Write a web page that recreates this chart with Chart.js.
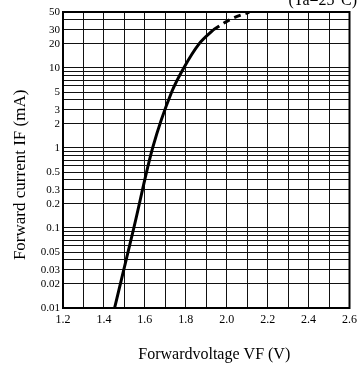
<!DOCTYPE html>
<html>
<head>
<meta charset="utf-8">
<script src="https://cdn.jsdelivr.net/npm/chart.js@4/dist/chart.umd.min.js"></script>
<style>
  html, body { margin: 0; padding: 0; background: #fff; }
  #wrap { width: 362px; height: 371px; }
</style>
</head>
<body>
<div id="wrap"><canvas id="ivChart"></canvas></div>
<script>
// forward voltage (V) vs forward current (mA)
const voltSolid = [1.452, 1.546, 1.638, 1.731, 1.790, 1.865, 1.935];
const currSolid = [0.01, 0.1, 1, 5, 10, 20, 30];
const voltDashed = [1.935, 2.015, 2.11];
const currDashed = [30, 40, 50];

// axis ticks
const yGridValues = [0.01,0.02,0.03,0.04,0.05,0.06,0.07,0.08,0.09,
                     0.1,0.2,0.3,0.4,0.5,0.6,0.7,0.8,0.9,
                     1,2,3,4,5,6,7,8,9,
                     10,20,30,40,50];
const yLabels = ['0.01','0.02','0.03','0.05','0.1','0.2','0.3','0.5','1','2','3','5','10','20','30','50'];
const xLabels = ['1.2','1.4','1.6','1.8','2.0','2.2','2.4','2.6'];

const ctx = document.getElementById('ivChart').getContext('2d');

const toPoints = (xs, ys) => xs.map((x, i) => ({ x: x, y: ys[i] }));

// thick frame + temperature note
const framePlugin = {
    id: 'frame',
    afterDraw(chart) {
        const a = chart.chartArea;
        const c = chart.ctx;
        c.save();
        c.strokeStyle = '#000';
        c.lineWidth = 2;
        c.strokeRect(a.left, a.top, a.right - a.left, a.bottom - a.top);
        c.fillStyle = '#000';
        c.font = '16px "Liberation Serif"';
        c.textAlign = 'right';
        c.textBaseline = 'alphabetic';
        c.fillText('(Ta=25°C)', 357, 5);
        c.restore();
    }
};

const ivChart = new Chart(ctx, {
    type: 'line',
    data: {
        datasets: [{
            label: 'IF',
            data: toPoints(voltSolid, currSolid),
            borderColor: '#000',
            borderWidth: 3,
            pointRadius: 0,
            cubicInterpolationMode: 'monotone'
        }, {
            label: 'IF (dashed)',
            data: toPoints(voltDashed, currDashed),
            borderColor: '#000',
            borderWidth: 3,
            borderDash: [7, 5],
            pointRadius: 0,
            cubicInterpolationMode: 'monotone'
        }]
    },
    options: {
        responsive: true,
        maintainAspectRatio: false,
        animation: false,
        layout: {
            padding: { top: 12, right: 3, left: 0, bottom: 0 }
        },
        plugins: {
            legend: { display: false },
            tooltip: { enabled: false }
        },
        scales: {
            x: {
                type: 'linear',
                min: 1.2,
                max: 2.6,
                ticks: {
                    stepSize: 0.1,
                    autoSkip: false,
                    maxRotation: 0,
                    padding: 5,
                    color: '#000',
                    font: { family: 'Liberation Serif', size: 12 },
                    callback: function(v) {
                        const s = Number(v).toFixed(1);
                        return xLabels.includes(s) ? s : '';
                    }
                },
                grid: { color: '#111', lineWidth: 1, drawTicks: false },
                border: { color: '#000', width: 2 },
                title: {
                    display: true,
                    text: '    Forwardvoltage VF (V)',
                    color: '#000',
                    font: { family: 'Liberation Serif', size: 16 },
                    padding: { top: 0, bottom: 7 }
                },
                afterFit: function(scale) { scale.height = 63; }
            },
            y: {
                type: 'logarithmic',
                min: 0.01,
                max: 50,
                afterBuildTicks: function(scale) {
                    scale.ticks = yGridValues.map(v => ({ value: v }));
                },
                ticks: {
                    autoSkip: false,
                    padding: 3,
                    color: '#000',
                    font: { family: 'Liberation Serif', size: 11 },
                    callback: function(v) {
                        const s = String(Number(v.toPrecision(3)));
                        return yLabels.includes(s) ? s : '';
                    }
                },
                grid: { color: '#111', lineWidth: 1, drawTicks: false },
                border: { color: '#000', width: 2 },
                title: {
                    display: true,
                    text: 'Forward current IF (mA)       ',
                    color: '#000',
                    font: { family: 'Liberation Serif', size: 17 },
                    padding: { top: 10, bottom: 0 }
                },
                afterFit: function(scale) { scale.width = 63; }
            }
        }
    },
    plugins: [framePlugin]
});
</script>
</body>
</html>
